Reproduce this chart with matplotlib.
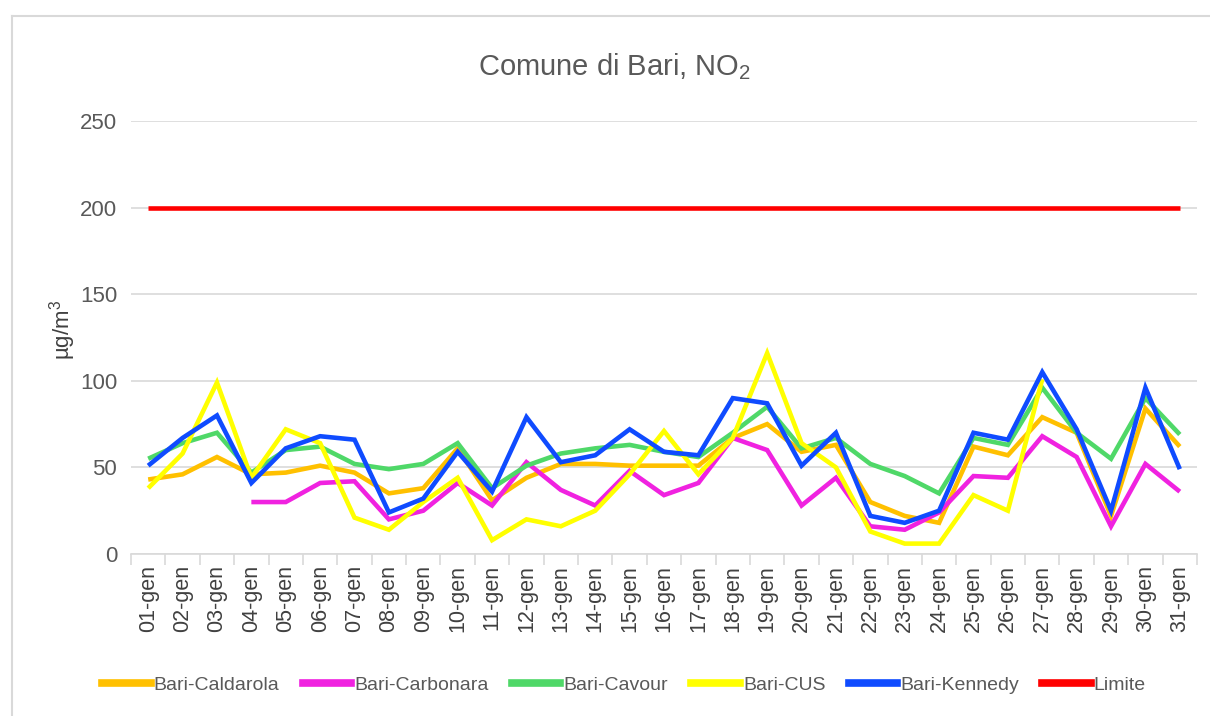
import numpy as np
import matplotlib
matplotlib.use("Agg")
import matplotlib.pyplot as plt
from matplotlib.lines import Line2D

FONT = ['Liberation Sans', 'DejaVu Sans']
plt.rcParams['font.family'] = FONT
plt.rcParams['mathtext.default'] = 'regular'

days = [f"{d:02d}-gen" for d in range(1, 32)]
nan = np.nan
caldarola = [43, 46, 56, 46, 47, 51, 47, 35, 38, 61, 31, 44, 52, 52, 51, 51,
             51, 67, 75, 59, 63, 30, 22, 18, 62, 57, 79, 70, 22, 84, 62]
carbonara = [nan, nan, nan, 30, 30, 41, 42, 20, 25, 41, 28, 53, 37, 28, 48, 34,
             41, 67, 60, 28, 44, 16, 14, 24, 45, 44, 68, 56, 16, 52, 36]
cavour = [55, 64, 70, 47, 60, 62, 52, 49, 52, 64, 38, 51, 58, 61, 63, 59,
          56, 70, 85, 61, 67, 52, 45, 35, 67, 63, 96, 70, 55, 90, 69]
cus = [38, 58, 99, 44, 72, 64, 21, 14, 30, 44, 8, 20, 16, 25, 46, 71,
       46, 67, 116, 64, 50, 13, 6, 6, 34, 25, 101, nan, nan, nan, nan]
kennedy = [51, 67, 80, 41, 61, 68, 66, 24, 32, 59, 36, 79, 53, 57, 72, 59,
           57, 90, 87, 51, 70, 22, 18, 25, 70, 66, 105, 72, 25, 96, 49]
limite = [200] * 31

series = [("Bari-Caldarola", caldarola, "#FFC000"),
          ("Bari-Carbonara", carbonara, "#F022E0"),
          ("Bari-Cavour", cavour, "#4FD868"),
          ("Bari-CUS", cus, "#FFFF00"),
          ("Bari-Kennedy", kennedy, "#0F4BFF"),
          ("Limite", limite, "#FF0000")]

W, H = 1210, 716
fig = plt.figure(figsize=(W / 100, H / 100), dpi=100)
ax = fig.add_axes([131 / W, 1 - 554 / H, (1197 - 131) / W, (554 - 121) / H])

x = np.arange(len(days))
for name, vals, col in series:
    ax.plot(x, np.array(vals, dtype=float), color=col, lw=3.3, label=name,
            solid_capstyle='butt', solid_joinstyle='miter')

ax.set_xlim(-0.5, len(days) - 0.5)
ax.set_ylim(0, 250)
ax.set_yticks([0, 50, 100, 150, 200, 250])
ax.grid(axis='y', color='#d9d9d9', lw=1.2)
ax.set_axisbelow(True)
for s in ['top', 'right', 'left']:
    ax.spines[s].set_visible(False)
ax.spines['bottom'].set_color('#d9d9d9')
ax.spines['bottom'].set_linewidth(1.2)

ax.set_xticks(x)
ax.set_xticklabels(days, rotation=90, fontsize=15.5, color='#404040')
ax.set_xticks(np.arange(-0.5, len(days), 1), minor=True)
ax.tick_params(axis='x', which='major', length=0, pad=8)
ax.tick_params(axis='x', which='minor', length=8, color='#d9d9d9', width=1.2)
ax.tick_params(axis='y', length=0, labelsize=16, labelcolor='#595959', pad=10)

ax.set_ylabel("µg/m$^3$", fontsize=16, color='#404040')
ax.yaxis.set_label_coords(-0.05, 0.517)

fig.text(615 / W, 1 - 67 / H, "Comune di Bari, NO$_2$", ha='center', va='center',
         fontsize=21, color='#595959')

handles = [Line2D([], [], color=c, lw=5.5) for _, _, c in series]
leg = fig.legend(handles, [n for n, _, _ in series], loc='center',
                 bbox_to_anchor=(624 / W, 1 - 685 / H), ncol=6, frameon=False,
                 fontsize=14, handlelength=2.5, handletextpad=0.15,
                 columnspacing=1.2)
for t in leg.get_texts():
    t.set_color('#595959')

# outer chart border (left and top edges visible)
fig.add_artist(Line2D([12 / W, 12 / W], [0, 1 - 16 / H], color='#d9d9d9', lw=1.5,
                      transform=fig.transFigure))
fig.add_artist(Line2D([12 / W, 1], [1 - 16 / H, 1 - 16 / H], color='#d9d9d9', lw=1.5,
                      transform=fig.transFigure))

fig.savefig("out.png", dpi=100, facecolor='white')
